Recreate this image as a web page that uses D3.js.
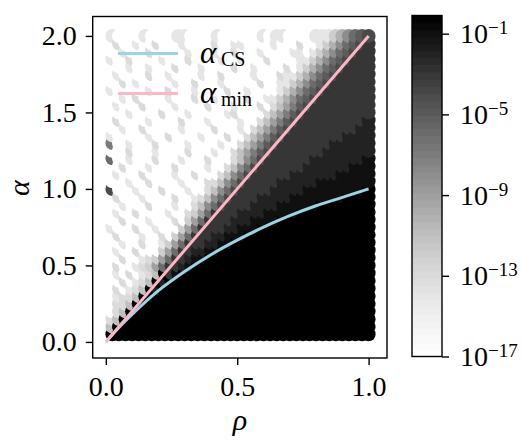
<!DOCTYPE html>
<html>
<head>
<meta charset="utf-8">
<script src="https://cdn.jsdelivr.net/npm/d3@7"></script>
<style>
  body { margin: 0; background: #fff; }
  text { font-family: "Liberation Serif", "DejaVu Serif", serif; fill: #000; }
</style>
</head>
<body>
<div id="chart"></div>
<script>
// grid of the scatter: columns are rho, rows are alpha
const rhoValues = [0.025, 0.05, 0.075, 0.1, 0.125, 0.15, 0.175, 0.2, 0.225, 0.25,
  0.275, 0.3, 0.325, 0.35, 0.375, 0.4, 0.425, 0.45, 0.475, 0.5,
  0.525, 0.55, 0.575, 0.6, 0.625, 0.65, 0.675, 0.7, 0.725, 0.75,
  0.775, 0.8, 0.825, 0.85, 0.875, 0.9, 0.925, 0.95, 0.975, 1.0];
const alphaValues = [0.05, 0.1, 0.15, 0.2, 0.25, 0.3, 0.35, 0.4, 0.45, 0.5,
  0.55, 0.6, 0.65, 0.7, 0.75, 0.8, 0.85, 0.9, 0.95, 1.0,
  1.05, 1.1, 1.15, 1.2, 1.25, 1.3, 1.35, 1.4, 1.45, 1.5,
  1.55, 1.6, 1.65, 1.7, 1.75, 1.8, 1.85, 1.9, 1.95, 2.0];

// values, rows from alpha = 2.0 (top) down to 0.05
// one char per rho column: -log10(value), 0-9 then a-h for 10-17
const valueRows = [
  "ehhhhehhhh eehhhhehhh hhheheehhh heeeca8654",
  "hdhhehhdhh hehhhhdhhe ehhhhehhhd hheca86543",
  "hhehhhdhhh hhehhhehhd hhhehhhhee heca865433",
  "ehhdhhhheh hhdhhhhehh ehhhdhhhhe eca8654333",
  "hhhehhehhh dhhhehhhhd hhehhhhdhe ca86543333",
  "hehhhhdhhe hhhhehhdhh hhehhhdeec a865433333",
  "hhdhehhhhh ehhdhhhehh hhhdhheeca 8654333333",
  "ehhhhhehhd hhhehhhhdh hehhhheca8 6543333333",
  "hhehdhhhhe hhhdhhehhh hdhheeca86 5433333333",
  "hehhhdhhhh ehhhhdhhhe hhhdhdb975 4333333333",
  "hhhehhhhdh hhehhhhhed hhhhdb9754 3333333333",
  "hdhhhhehhh hdhhhehhhh ehhdb97543 3333333332",
  "hhehhdhhhh hehhhhdhhh ehdb975433 3333333322",
  "ehhhhhehhd hhhhehhhdh hdb9754333 3333332222",
  "7hhehhhdhh hhehhhhehh db97543333 3333222222",
  "hhhdhhhehh hhdhhhehhd b975433333 3332222222",
  "6hhehhhdhh hehhhdhhhd b864333333 3222222221",
  "hhdhhhehhh dhhhhehhdb 8643333333 2222222111",
  "hehhhdhhhh ehhdhhhdb8 6433333322 2222211111",
  "hhhehhdhhh hehhhddb86 4333332222 2211111111",
  "4hhhehhhdh hhehhdb864 3333322222 1111111110",
  "hdhhhehhhh dhhedb8643 3332222211 1111110000",
  "hhehhhdhhh ehhdb86433 3322221111 1100000000",
  "hehhdhhhhe hhdc963333 2222111110 0000000000",
  "hhdhhhehhh dhc9633332 2211110000 0000000000",
  "ehhhdhhehh hc96333322 1110000000 0000000000",
  "hdhhhehhdh c963332211 1000000000 0000000000",
  "hhehhdhhec 9633322110 0000000000 0000000000",
  "hehhdhhhc9 6332211000 0000000000 0000000000",
  "hhdhhedc96 3321100000 0000000000 0000000000",
  "hdhhedc963 3210000000 0000000000 0000000000",
  "hehdhedb03 1000000000 0000000000 0000000000",
  "hhdhedb020 0000000000 0000000000 0000000000",
  "hdhedb0200 0000000000 0000000000 0000000000",
  "heddb01000 0000000000 0000000000 0000000000",
  "hddb000000 0000000000 0000000000 0000000000",
  "hdb0000000 0000000000 0000000000 0000000000",
  "db00000000 0000000000 0000000000 0000000000",
  "b000000000 0000000000 0000000000 0000000000",
  "0000000000 0000000000 0000000000 0000000000"
];

// the two curves
const csRho   = [0, 0.05, 0.1, 0.2, 0.3, 0.4, 0.5, 0.6, 0.7, 0.8, 0.9, 1.0];
const csAlpha = [0, 0.095, 0.18, 0.335, 0.46, 0.57, 0.665, 0.75, 0.825, 0.89, 0.945, 1.0];
const minRho   = [0, 1.0];
const minAlpha = [0, 2.0];

// ticks
const xTicks = [0, 0.5, 1.0];
const yTicks = [0, 0.5, 1.0, 1.5, 2.0];
const cbExponents = [-1, -5, -9, -13, -17];

const W = 523, H = 440;
const svg = d3.select("#chart").append("svg")
  .attr("width", W)
  .attr("height", H);

// axes box
const frame = {left: 92.7, right: 387, top: 16.5, bottom: 358};
const x = d3.scaleLinear().domain([-0.05, 1.07]).range([frame.left, frame.right]);
const y = d3.scaleLinear().domain([-0.105, 2.127]).range([frame.bottom, frame.top]);

// log colour scale (Greys)
const logMin = -17, logMax = -0.1;
const shade = d3.scaleSequential(d3.interpolateGreys).domain([logMin, logMax]).clamp(true);

// unpack the grid, column by column, bottom to top (draw order matters)
const cells = [];
rhoValues.forEach(function(rho, i) {
  alphaValues.forEach(function(alpha, j) {
    const row = valueRows[alphaValues.length - 1 - j].replace(/ /g, "");
    const code = row[i] || "h";
    cells.push({rho: rho, alpha: alpha, value: Math.pow(10, -parseInt(code, 18))});
  });
});

svg.append("clipPath").attr("id", "clip")
  .append("rect")
  .attr("x", frame.left).attr("y", frame.top)
  .attr("width", frame.right - frame.left)
  .attr("height", frame.bottom - frame.top);

svg.append("g")
  .attr("clip-path", "url(#clip)")
  .selectAll("circle")
  .data(cells)
  .enter().append("circle")
    .attr("cx", function(d) { return x(d.rho); })
    .attr("cy", function(d) { return y(d.alpha); })
    .attr("r", 7)
    .attr("fill", function(d) { return shade(Math.log10(d.value)); });

// curves
const line = d3.line()
  .x(function(d) { return x(d[0]); })
  .y(function(d) { return y(d[1]); })
  .curve(d3.curveMonotoneX);

const blue = "#9dd3e5", pink = "#ffb6c4";

svg.append("path")
  .datum(csRho.map(function(r, k) { return [r, csAlpha[k]]; }))
  .attr("d", line)
  .attr("fill", "none")
  .attr("stroke", blue)
  .attr("stroke-width", 3);

svg.append("path")
  .datum(minRho.map(function(r, k) { return [r, minAlpha[k]]; }))
  .attr("d", line)
  .attr("fill", "none")
  .attr("stroke", pink)
  .attr("stroke-width", 3);

// frame
svg.append("rect")
  .attr("x", frame.left).attr("y", frame.top)
  .attr("width", frame.right - frame.left)
  .attr("height", frame.bottom - frame.top)
  .attr("fill", "none")
  .attr("stroke", "#000")
  .attr("stroke-width", 1.4);

// axes
const xAxis = svg.append("g")
  .attr("transform", "translate(0," + frame.bottom + ")")
  .call(d3.axisBottom(x).tickValues(xTicks).tickFormat(d3.format(".1f")).tickSize(7).tickPadding(11));
const yAxis = svg.append("g")
  .attr("transform", "translate(" + frame.left + ",0)")
  .call(d3.axisLeft(y).tickValues(yTicks).tickFormat(d3.format(".1f")).tickSize(7).tickPadding(9));

[xAxis, yAxis].forEach(function(a) {
  a.select(".domain").remove();
  a.selectAll(".tick line").attr("stroke", "#000").attr("stroke-width", 1.4);
  a.selectAll(".tick text")
    .style("font-family", "'Liberation Serif', 'DejaVu Serif', serif")
    .style("font-size", "28px");
});

// axis labels
svg.append("text")
  .attr("x", (frame.left + frame.right) / 2)
  .attr("y", 430)
  .attr("text-anchor", "middle")
  .style("font-size", "30px")
  .style("font-style", "italic")
  .text("ρ");

svg.append("text")
  .attr("transform", "translate(29,188) rotate(-90)")
  .attr("text-anchor", "middle")
  .style("font-size", "30px")
  .style("font-style", "italic")
  .text("α");

// legend
const legend = [
  {label: "CS", color: blue, y: 53.5},
  {label: "min", color: pink, y: 93.5}
];
legend.forEach(function(d) {
  svg.append("line")
    .attr("x1", 118).attr("x2", 178)
    .attr("y1", d.y).attr("y2", d.y)
    .attr("stroke", d.color)
    .attr("stroke-width", 3);
  svg.append("text")
    .attr("x", 200).attr("y", d.y + 9)
    .style("font-size", "31px")
    .style("font-style", "italic")
    .text("α");
  svg.append("text")
    .attr("x", 221).attr("y", d.y + 12)
    .style("font-size", "20px")
    .text(d.label);
});

// colorbar
const cb = {left: 412, right: 442, top: 15.5, bottom: 356.5};
const cbScale = d3.scaleLinear().domain([logMin, logMax]).range([cb.bottom, cb.top]);
const steps = d3.range(48);
const stepH = (cb.bottom - cb.top) / steps.length;
svg.append("g")
  .selectAll("rect")
  .data(steps)
  .enter().append("rect")
    .attr("x", cb.left)
    .attr("y", function(k) { return cb.bottom - (k + 1) * stepH; })
    .attr("width", cb.right - cb.left)
    .attr("height", stepH + 0.6)
    .attr("fill", function(k) { return shade(logMin + (k + 0.5) / steps.length * (logMax - logMin)); });

svg.append("rect")
  .attr("x", cb.left).attr("y", cb.top)
  .attr("width", cb.right - cb.left)
  .attr("height", cb.bottom - cb.top)
  .attr("fill", "none")
  .attr("stroke", "#000")
  .attr("stroke-width", 1.4);

const cbAxis = svg.append("g")
  .attr("transform", "translate(" + cb.right + ",0)")
  .call(d3.axisRight(cbScale).tickValues(cbExponents).tickSize(7).tickPadding(11));
cbAxis.select(".domain").remove();
cbAxis.selectAll(".tick line").attr("stroke", "#000").attr("stroke-width", 1.4);
cbAxis.selectAll(".tick text").each(function(e) {
  const t = d3.select(this).text(null)
    .style("font-family", "'Liberation Serif', 'DejaVu Serif', serif")
    .style("font-size", "28px");
  t.append("tspan").text("10");
  t.append("tspan")
    .attr("dy", "-9")
    .style("font-size", "19px")
    .text("\u2212" + Math.abs(e));
});
</script>
</body>
</html>
